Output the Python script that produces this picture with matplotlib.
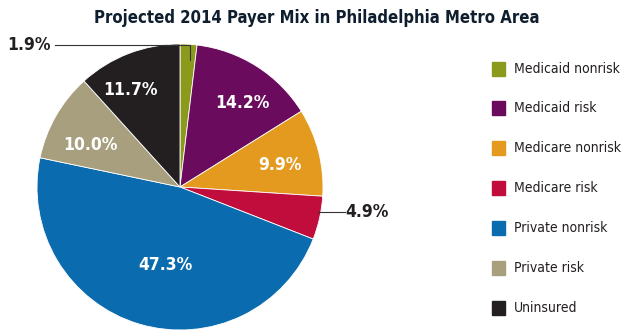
import matplotlib.pyplot as plt
from matplotlib.patches import Rectangle

# Data
categories = ["Medicaid nonrisk", "Medicaid risk", "Medicare nonrisk", "Medicare risk",
              "Private nonrisk", "Private risk", "Uninsured"]
shares = [1.9, 14.2, 9.9, 4.9, 47.3, 10.0, 11.7]
colors = ["#8b9a1c", "#6a0b5e", "#e49a1f", "#c00d3b", "#0a6cae", "#a89f7f", "#231f20"]

plt.rcParams['font.family'] = ['DejaVu Sans']
plt.rcParams['font.stretch'] = 'condensed'

fig = plt.figure(figsize=(6.23, 3.32), dpi=100)
W, H = 623, 332

# pie axes: center (180, 187) px, radius 143 px
cx, cy, r = 180, 187, 143
ax = fig.add_axes([(cx - r) / W, (H - cy - r) / H, 2 * r / W, 2 * r / H])
wedges, _ = ax.pie(shares, colors=colors, startangle=90, counterclock=False,
                   radius=1.0, wedgeprops=dict(edgecolor="white", linewidth=0.6))
ax.set_xlim(-1, 1)
ax.set_ylim(-1, 1)
ax.set_aspect("auto")
ax.axis("off")

def px(x, y):
    # pixel (from top-left) to pie data coords
    return (x - cx) / r, (cy - y) / r

# inside labels
inside = {1: (242, 103), 2: (280, 165), 4: (165, 265), 5: (90, 145), 6: (130, 90)}
for i, (x, y) in inside.items():
    ax.text(*px(x, y), f"{shares[i]:.1f}%", color="white", fontsize=12.5,
            fontweight="bold", ha="center", va="center")

# outside labels with leader lines
x1, y1 = px(55, 45)
x2, y2 = px(190, 45)
x3, y3 = px(190, 60)
ax.plot([x1, x2, x3], [y1, y2, y3], color="#333333", lw=0.8, clip_on=False)
ax.text(*px(29, 45), f"{shares[0]:.1f}%", color="#231f20", fontsize=12.5,
        fontweight="bold", ha="center", va="center")

ax.plot([px(318, 212)[0], px(345, 212)[0]], [px(318, 212)[1]] * 2,
        color="#333333", lw=0.8, clip_on=False)
ax.text(*px(367, 212), f"{shares[3]:.1f}%", color="#231f20", fontsize=12.5,
        fontweight="bold", ha="center", va="center")

# title
fig.text(317 / W, 1 - 18 / H, "Projected 2014 Payer Mix in Philadelphia Metro Area",
         ha="center", va="center", fontsize=12, fontweight="bold", color="#0f1e2e")

# legend
ys = [69, 108, 148, 188, 228, 268, 308]
for c, lab, y in zip(colors, categories, ys):
    fig.add_artist(Rectangle((492 / W, 1 - (y + 7) / H), 13 / W, 14 / H,
                             transform=fig.transFigure, color=c))
    fig.text(514 / W, 1 - y / H, lab, ha="left", va="center", fontsize=10,
             color="#231f20")

fig.savefig("out.png", dpi=100)
